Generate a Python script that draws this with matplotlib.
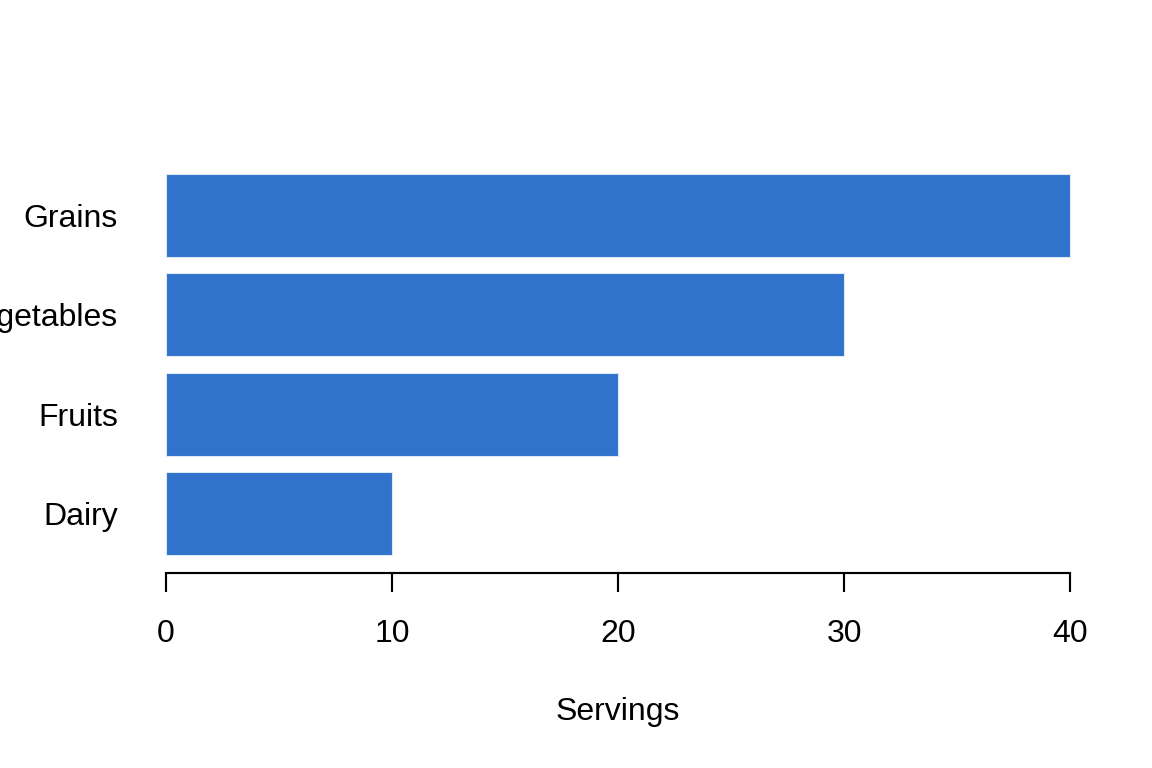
import matplotlib
matplotlib.use("Agg")
import matplotlib.pyplot as plt

plt.rcParams["font.family"] = ["Liberation Sans", "DejaVu Sans"]

categories = ["Dairy", "Fruits", "Vegetables", "Grains"]
servings = [10, 20, 30, 40]
xticks = [0, 10, 20, 30, 40]

fig = plt.figure(figsize=(6, 4), dpi=192)
ax = fig.add_axes([0.1127, 0.2576, 0.9603 - 0.1127, 0.7932 - 0.2576])

# R barplot layout: width 1, space 0.2
ypos = [0.2 + 1.2 * i + 0.5 for i in range(len(categories))]
ax.barh(ypos, servings, height=1.0, color="#3072CC", edgecolor="#dfe8f5", linewidth=0.4)

for s in ["top", "right", "left"]:
    ax.spines[s].set_visible(False)
ax.spines["bottom"].set_position(("outward", 1))
ax.spines["bottom"].set_bounds(0, 40)
ax.spines["bottom"].set_linewidth(0.8)

ax.set_ylim(0.016, 4.984)
ax.set_xlim(-1.6, 41.6)
ax.set_yticks(ypos)
ax.set_yticklabels(categories)
ax.set_xticks(xticks)
ax.set_xticklabels([str(t) for t in xticks])
ax.tick_params(axis="y", length=0, pad=4.5, labelsize=12)
ax.tick_params(axis="x", length=7, width=0.8, pad=10.5, labelsize=12)

ax.set_xlabel("Servings", fontsize=12, labelpad=18)

fig.savefig("out.png", dpi=192)
